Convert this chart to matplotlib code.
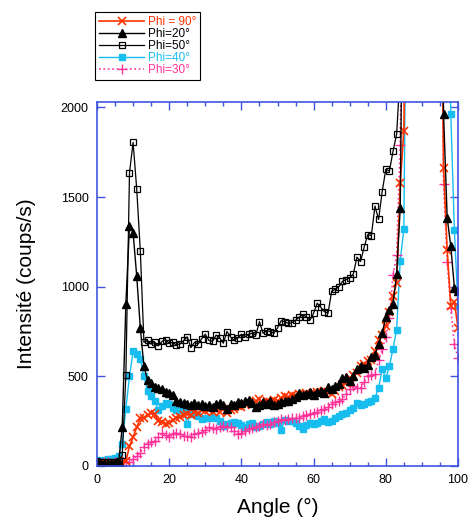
import numpy as np
import matplotlib
matplotlib.use('Agg')
import matplotlib.pyplot as plt
from matplotlib.ticker import MultipleLocator

plt.rcParams['font.family'] = ['Liberation Sans', 'DejaVu Sans']

nan = np.nan

############################################################
# Data
############################################################
angle_lo = list(range(0, 87))
angle_hi = list(range(95, 101))

phi50_lo = [30, 25, 20, 20, 25, 20, 30, 60, 510, 1635,
            1805, 1545, 1200, 690, 700, 680, 690, 670, 695, 705,
            685, 690, 675, 680, 700, 720, 660, 690, 680, 710,
            735, 700, 695, 730, 715, 685, 750, 720, 700, 715,
            735, 720, 735, 740, 730, 805, 740, 755, 750, 740,
            770, 810, 805, 795, 800, 813, 830, 845, 830, 813,
            852, 908, 885, 860, 852, 975, 985, 1000, 1030, 1040,
            1050, 1070, 1165, 1140, 1220, 1290, 1285, 1450, 1375, 1530,
            1655, 1645, 1755, 1850, 2200, nan, nan]
phi50_hi = [nan, nan, nan, nan, nan, nan]

phi20_lo = [15, 10, 10, 10, 10, 15, 20, 220, 905, 1340,
            1300, 1060, 770, 555, 480, 465, 440, 435, 430, 415,
            405, 395, 365, 355, 350, 345, 340, 350, 340, 345,
            335, 340, 330, 345, 350, 340, 320, 345, 340, 355,
            350, 360, 370, 350, 330, 340, 355, 345, 360, 340,
            345, 355, 360, 365, 375, 385, 405, 395, 400, 410,
            395, 410, 420, 405, 440, 430, 445, 455, 490, 495,
            475, 500, 540, 555, 545, 565, 610, 620, 680, 740,
            830, 870, 905, 1070, 1440, 3500, nan]
phi20_hi = [3500, 1965, 1385, 1225, 995, 975]

phi90_lo = [15, 15, 10, 10, 10, 10, 10, 15, 28, 110,
            160, 215, 265, 270, 285, 295, 290, 250, 245, 235,
            240, 255, 270, 275, 285, 290, 285, 300, 295, 310,
            305, 310, 300, 315, 300, 320, 295, 310, 320, 335,
            330, 345, 355, 340, 360, 375, 350, 365, 355, 370,
            360, 380, 390, 385, 395, 390, 400, 395, 405, 400,
            405, 410, 415, 420, 410, 400, 420, 440, 450, 465,
            490, 505, 520, 560, 570, 585, 590, 640, 700, 730,
            780, 860, 950, 1020, 1580, 1870, 3500]
phi90_hi = [3500, 1660, 1205, 895, 915, 770]

phi40_lo = [35, 30, 35, 40, 40, 45, 55, 125, 320, 500,
            640, 625, 595, 500, 420, 390, 360, 315, 335, 350,
            345, 325, 315, 315, 310, 235, 295, 290, 280, 260,
            265, 270, 275, 270, 250, 225, 235, 240, 245, 240,
            230, 215, 235, 240, 215, 225, 235, 245, 235, 250,
            240, 200, 255, 250, 250, 240, 225, 205, 230, 240,
            235, 240, 250, 260, 245, 250, 265, 280, 290, 295,
            310, 325, 350, 340, 345, 355, 365, 380, 435, 540,
            490, 555, 655, 760, 1145, 1320, 3500]
phi40_hi = [nan, nan, 3500, 1965, 1315, 890]

phi30_lo = [15, 15, 20, 20, 15, 20, 20, 20, 20, 20,
            40, 55, 75, 105, 125, 135, 140, 160, 185, 175,
            160, 180, 185, 180, 170, 165, 160, 180, 185, 190,
            200, 215, 210, 205, 220, 225, 220, 215, 195, 180,
            185, 195, 205, 210, 215, 225, 235, 230, 235, 245,
            250, 260, 255, 260, 265, 270, 270, 280, 285, 290,
            295, 300, 310, 320, 330, 345, 355, 360, 375, 400,
            430, 445, 435, 435, 470, 500, 505, 515, 590, 650,
            720, 825, 1065, 1175, 1790, 3500, nan]
phi30_hi = [3500, 1570, 1140, 880, 680, 605]

angle = angle_lo + angle_hi

############################################################
# Plot
############################################################
blue = '#3f55e0'
red = '#ff3300'
cyan = '#18bdf0'
pink = '#ff3399'

fig = plt.figure(figsize=(4.68, 5.18), dpi=100)
ax = fig.add_axes([97/468, 1 - 466/518, 361/468, 364/518])

l40, = ax.plot(angle, phi40_lo + phi40_hi, color=cyan, lw=1, marker='s',
               ms=4, mec=cyan, mfc=cyan, label='Phi=40°')
l30, = ax.plot(angle, phi30_lo + phi30_hi, color=pink, lw=1.2, ls=':',
               marker='+', ms=6.5, mew=1, label='Phi=30°')
l90, = ax.plot(angle, phi90_lo + phi90_hi, color=red, lw=1.2, marker='x',
               ms=5.5, mew=1.2, label='Phi = 90°')
l20, = ax.plot(angle, phi20_lo + phi20_hi, color='black', lw=1, marker='^',
               ms=5.2, label='Phi=20°')
l50, = ax.plot(angle, phi50_lo + phi50_hi, color='black', lw=0.9, marker='s',
               ms=4, mfc='none', mew=0.9, label='Phi=50°')

ax.set_xlim(0, 100)
ax.set_ylim(0, 2030)
ax.xaxis.set_major_locator(MultipleLocator(20))
ax.xaxis.set_minor_locator(MultipleLocator(5))
ax.yaxis.set_major_locator(MultipleLocator(500))

for s in ax.spines.values():
    s.set_color(blue)
    s.set_linewidth(1.2)
ax.tick_params(which='both', direction='in', top=True, right=True,
               color=blue, labelcolor='black', labelsize=9, pad=6)
ax.tick_params(which='major', length=6, width=1)
ax.tick_params(which='minor', length=3, width=1)

ax.set_xlabel('Angle (°)', fontsize=15, labelpad=8)
ax.set_ylabel('Intensité (coups/s)', fontsize=15, labelpad=18)

leg = fig.legend(handles=[l90, l20, l50, l40, l30], loc='upper left',
                 bbox_to_anchor=(95/468, 1 - 12/518), borderaxespad=0,
                 fontsize=8.5, labelcolor='linecolor', fancybox=False,
                 edgecolor='black', framealpha=1, handlelength=3.8,
                 handletextpad=0.3, labelspacing=0.0, borderpad=0.35)
leg.get_frame().set_linewidth(0.8)

fig.savefig('out.png', dpi=100)
